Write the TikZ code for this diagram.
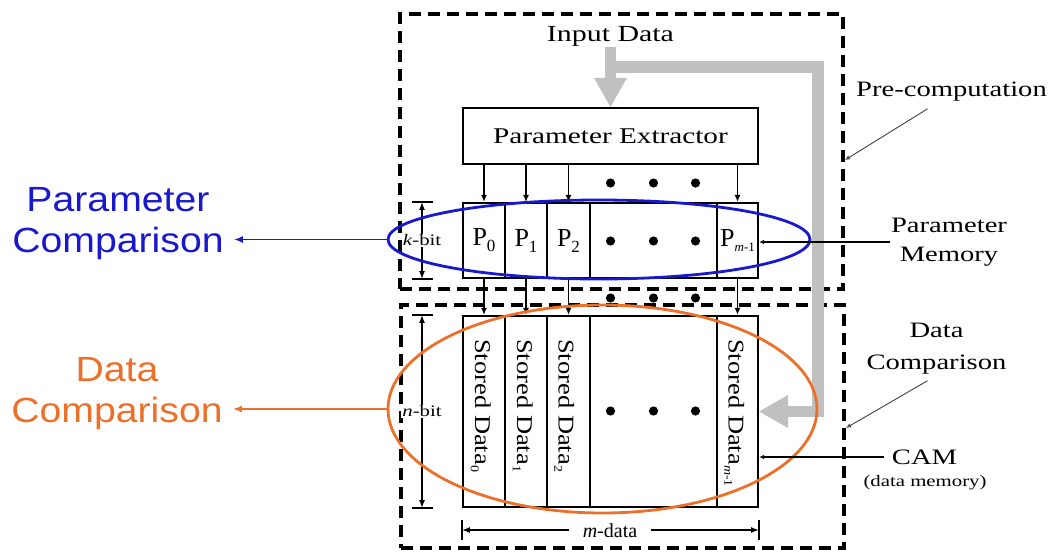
\documentclass[tikz,border=0pt]{standalone}
\usepackage{fontspec}
\usepackage{graphicx}
\setmainfont[FakeStretch=1.3]{Liberation Serif}
\newfontfamily\colserif{Liberation Serif}
\newfontfamily\headsans[FakeStretch=1.12]{Liberation Sans}
\usetikzlibrary{arrows.meta,shapes.geometric}

\definecolor{cmpblue}{RGB}{24,24,205}
\definecolor{cmporange}{RGB}{236,112,42}
\definecolor{busgray}{RGB}{192,192,192}

\newcommand{\sz}[2]{\fontsize{#1}{#2}\selectfont}
\newcommand{\psub}[1]{\raisebox{-6pt}{\sz{17}{17}#1}}
\newcommand{\dsub}[1]{\raisebox{-5pt}{\sz{14}{14}#1}}
\newcommand{\colword}[1]{\scalebox{1}[0.85]{Stored Data\dsub{#1}}}

\begin{document}
\begin{tikzpicture}[x=1pt,y=-1pt,
  frame/.style={draw, line width=3.2pt, dash pattern=on 12pt off 7pt, inner sep=0pt},
  box/.style={draw, line width=2.2pt, inner sep=0pt},
  pcell/.style={box, minimum height=75pt, font=\colserif\sz{26}{26}},
  ccell/.style={box, minimum height=191pt},
  coltext/.style={rotate=-90, anchor=base west, inner sep=0pt, font=\colserif\sz{26.5}{26.5}},
  feed/.style={line width=1.7pt, -{Latex[length=7pt,width=6pt]}},
  bus/.style={draw=busgray, line width=11.5pt, line join=miter},
  bustip/.style={-{Triangle[length=29pt,width=33pt,line width=0pt]}},
  dim/.style={line width=1.6pt, {Latex[length=8pt,width=6pt]}-{Latex[length=8pt,width=6pt]}},
  tick/.style={line width=2.2pt},
  tap/.style={line width=1.8pt, -{Latex[open,length=5pt,width=4.5pt]}},
  lead/.style={line width=0.9pt, draw=black!75, -{Latex[open,length=5pt,width=4.5pt]}},
  note/.style={font=\sz{22}{29}, align=center, inner sep=1pt},
  head/.style={font=\headsans\sz{35}{41}, align=center, inner sep=0pt},
  dimlabel/.style={fill=white, inner sep=1pt, font=\sz{16}{16}},
  cmp/.style={ellipse, line width=2.8pt, inner sep=0pt},
]
\useasboundingbox (0,0) rectangle (1053,552);

% dashed stage frames
\node[frame, minimum width=443pt, minimum height=275pt] (pre) at (621.5,151.5) {};
\node[frame, minimum width=443pt, minimum height=243pt] (dat) at (622.5,426.5) {};

% extractor and memories
\node[box, minimum width=295pt, minimum height=56pt, font=\sz{22.5}{26}] (pe) at (610.5,136) {Parameter Extractor};

\node[pcell, minimum width=42pt] (p0) at (484,240.5) {P\psub{0}};
\node[pcell, minimum width=42pt] (p1) at (526,240.5) {P\psub{1}};
\node[pcell, minimum width=43pt] (p2) at (568.5,240.5) {P\psub{2}};
\node[pcell, minimum width=127pt] (pd) at (653.5,240.5) {};
\node[pcell, minimum width=41pt] (pm) at (737.5,240.5) {P\raisebox{-5pt}{\sz{13}{13}\textit{m}-1}};

\node[ccell, minimum width=42pt] (c0) at (484,411.5) {};
\node[ccell, minimum width=42pt] (c1) at (526,411.5) {};
\node[ccell, minimum width=43pt] (c2) at (568.5,411.5) {};
\node[ccell, minimum width=127pt] (cd) at (653.5,411.5) {};
\node[ccell, minimum width=41pt] (cm) at (737.5,411.5) {};

\node[coltext] (s0) at (475,339) {\colword{0}};
\node[coltext] (s1) at (517,339) {\colword{1}};
\node[coltext] (s2) at (558.5,339) {\colword{2}};
\node[coltext] (sm) at (728.5,339) {\colword{\textit{m}-1}};

% input bus
\node[note, font=\sz{23}{26}] (indata) at (610.5,36) {Input Data};
\coordinate (split) at (610.5,67);
\coordinate (busturn) at (818,67);
\draw[bus, bustip] (indata.south) -- (pe.north);
\draw[bus, bustip] (split) -- (busturn) |- (cm.east);

% parameter lines
\foreach \c in {0,1,2,m} {
  \draw[feed] (pe.south -| p\c) -- (p\c.north);
  \draw[feed] (p\c.south) -- (c\c.north);
}
\foreach \y in {183,241,298,411}
  \foreach \dx in {-43,0,42}
    \fill (653.5+\dx,\y) circle (4.6pt);

% dimensions
\coordinate (kx) at (422,0);
\draw[dim] (kx |- p0.north) -- (kx |- p0.south);
\draw[tick] (kx |- p0.north) ++(-10.5,0) -- ++(21,0);
\draw[tick] (kx |- p0.south) ++(-10.5,0) -- ++(21,0);
\node[dimlabel] (kl) at (kx |- p0) {\textit{k}-bit};

\draw[dim] (kx |- c0.north) -- (kx |- c0.south);
\draw[tick] (kx |- c0.north) ++(-10.5,0) -- ++(21,0);
\draw[tick] (kx |- c0.south) ++(-10.5,0) -- ++(21,0);
\node[dimlabel] (nl) at (kx |- c0) {\textit{n}-bit};

\coordinate (my) at (0,530);
\draw[dim] (my -| c0.west) -- (my -| cm.east);
\draw[tick] (my -| c0.west) ++(0,-10) -- ++(0,20);
\draw[tick] (my -| cm.east) ++(0,-10) -- ++(0,20);
\node[dimlabel, inner xsep=14pt, font=\colserif\sz{20}{20}] (ml) at (610,531) {\textit{m}-data};

% comparison regions
\node[cmp, draw=cmpblue, minimum width=422pt, minimum height=79pt] (pcmp) at (599,239.5) {};
\node[cmp, draw=cmporange, minimum width=429pt, minimum height=208pt] (dcmp) at (602.5,409) {};

\node[head, text=cmpblue] (plab) at (118,224) {Parameter\\Comparison};
\node[head, text=cmporange] (dlab) at (117,394) {Data\\Comparison};
\draw[cmpblue, line width=1.8pt, -{Latex[length=9pt,width=7pt]}, shorten >=10pt] (pcmp.west) -- (pcmp.west -| plab.east);
\draw[cmporange, line width=1.8pt, -{Latex[length=9pt,width=7pt]}, shorten >=10pt] (dcmp.west) -- (dcmp.west -| dlab.east);

% right-hand annotations
\node[note] (prelab) at (951.5,92) {Pre-computation};
\coordinate (preMark) at (845,160);
\draw[lead] ([shift={(-24,6)}]prelab.south) -- (preMark);

\node[note, font=\sz{22}{29}] (pmlab) at (949,242) {Parameter\\Memory};
\draw[tap] (pmlab.west) -- (pmlab.west -| pm.east);

\node[note, font=\sz{22}{32}] (dclab) at (936.5,349) {Data\\Comparison};
\coordinate (datMark) at (846,428);
\draw[lead] ([shift={(-9,5)}]dclab.south) -- (datMark);

\node[note, inner xsep=8pt] (camlab) at (924.5,457) {CAM};
\node[note, font=\sz{16}{16}] (camsub) at (925,483) {(data memory)};
\draw[tap] (camlab.west) -- (camlab.west -| cm.east);
\end{tikzpicture}
\end{document}
